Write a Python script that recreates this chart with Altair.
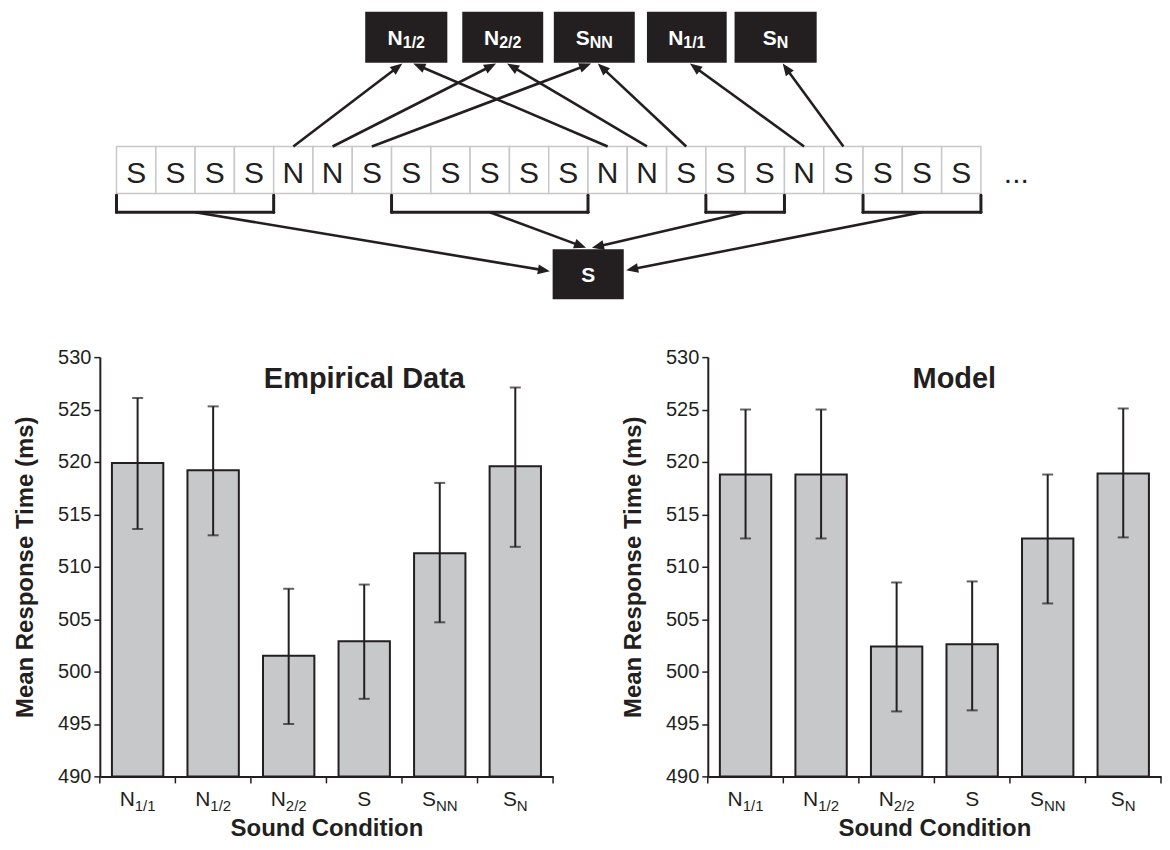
import math
import altair as alt
import pandas as pd

INK = "#231f20"
BAR_FILL = "#c7c8ca"
CELL_LINE = "#c8c8c8"
FONT = "Liberation Sans"

# ---------------- bar chart data ----------------
conditions = ["N1/1", "N1/2", "N2/2", "S", "SNN", "SN"]
cond_main = ["N", "N", "N", "S", "S", "S"]
cond_sub = ["1/1", "1/2", "2/2", "", "NN", "N"]

empirical_mean = [519.9, 519.2, 501.5, 502.9, 511.3, 519.6]
empirical_low = [513.6, 513.0, 495.0, 497.4, 504.7, 511.9]
empirical_high = [526.1, 525.3, 507.9, 508.3, 518.0, 527.1]

model_mean = [518.8, 518.8, 502.4, 502.6, 512.7, 518.9]
model_low = [512.7, 512.7, 496.2, 496.3, 506.5, 512.8]
model_high = [525.0, 525.0, 508.5, 508.6, 518.8, 525.1]

y_ticks = [490, 495, 500, 505, 510, 515, 520, 525, 530]

# ---------------- diagram data ----------------
sequence = list("SSSSNNSSSSSSNNSSSNSSSS")
box_main = ["N", "N", "S", "N", "S"]
box_sub = ["1/2", "2/2", "NN", "1/1", "N"]
box_left = [6.33, 8.80, 11.13, 13.50, 15.73]      # in cell widths
box_right = [8.42, 10.86, 13.19, 15.53, 17.82]
arrow_from_cell = [4, 5, 6, 12, 13, 14, 17, 18]
arrow_to_box = [0, 1, 2, 0, 1, 2, 3, 4]
arrow_tip_shift = [-0.10, -0.17, -0.08, 0.18, 0.11, 0.09, 0.08, 0.18]
bracket_first = [0, 7, 15, 19]
bracket_last = [3, 11, 16, 21]
bottom_tips = [(11.03, -1.66), (11.95, -1.16), (12.10, -1.16), (12.97, -1.64)]

GLYPH = {"N": 0.722, "S": 0.667, "1": 0.556, "2": 0.556, "/": 0.278}


def text_width(s, size):
    return sum(GLYPH[c] for c in s) * size


# ================= diagram =================
CELL_PX = 39.36
ROW_PX = 47.0
DW, DH = 1061, 296
X_MIN = -0.424
X_MAX = X_MIN + DW / CELL_PX
Y_MAX = 3.936
Y_MIN = Y_MAX - DH / ROW_PX

TOP_Y0, TOP_Y1 = 2.787, 3.872
BR_Y0, BR_Y1 = -0.40, -0.04
SB_X0, SB_X1, SB_Y0, SB_Y1 = 11.10, 12.91, -2.255, -1.19
LETTER_Y = 0.22

xs = alt.Scale(domain=[X_MIN, X_MAX], nice=False, zero=False)
ys = alt.Scale(domain=[Y_MIN, Y_MAX], nice=False, zero=False)


def X(f):
    return alt.X(f, type="quantitative", scale=xs, axis=None)


def Y(f):
    return alt.Y(f, type="quantitative", scale=ys, axis=None)


def arrow(x0, y0, x1, y1, back=7.0):
    dxp = (x1 - x0) * CELL_PX
    dyp = -(y1 - y0) * ROW_PX
    L = math.hypot(dxp, dyp)
    ang = math.degrees(math.atan2(dxp, -dyp)) % 360
    xe = x1 - back * dxp / L / CELL_PX
    ye = y1 + back * dyp / L / ROW_PX
    return dict(x=x0, y=y0, x2=xe, y2=ye), dict(x=x1, y=y1, angle=ang)


cells = pd.DataFrame({
    "x0": list(range(len(sequence))),
    "x1": [i + 1 for i in range(len(sequence))],
    "xc": [i + 0.5 for i in range(len(sequence))],
    "y0": [0.0] * len(sequence),
    "y1": [1.0] * len(sequence),
    "yt": [LETTER_Y] * len(sequence),
    "letter": sequence,
})

boxes = pd.DataFrame({
    "x0": box_left + [SB_X0],
    "x1": box_right + [SB_X1],
    "y0": [TOP_Y0] * len(box_left) + [SB_Y0],
    "y1": [TOP_Y1] * len(box_left) + [SB_Y1],
})

lab_rows_main, lab_rows_sub = [], []
for m, s, l, r in zip(box_main + ["S"], box_sub + [""], box_left + [SB_X0], box_right + [SB_X1]):
    cx = (l + r) / 2
    y0, y1 = (TOP_Y0, TOP_Y1) if l != SB_X0 else (SB_Y0, SB_Y1)
    mid = (y0 + y1) / 2
    wm = text_width(m, 21)
    ws = text_width(s, 16) if s else 0
    tot = wm + ws
    mx = cx - tot / 2 / CELL_PX
    my = mid - (0.716 * 21 / 2) / ROW_PX
    lab_rows_main.append(dict(x=mx, y=my, t=m))
    if s:
        lab_rows_sub.append(dict(x=mx + wm / CELL_PX, y=my - 3.5 / ROW_PX, t=s))
lab_main = pd.DataFrame(lab_rows_main)
lab_sub = pd.DataFrame(lab_rows_sub)

lines, heads = [], []
for c, b, sh in zip(arrow_from_cell, arrow_to_box, arrow_tip_shift):
    tx = (box_left[b] + box_right[b]) / 2 + sh
    ln, hd = arrow(c + 0.5, 1.0, tx, TOP_Y0 - 0.02)
    lines.append(ln)
    heads.append(hd)
for f, l, (tx, ty) in zip(bracket_first, bracket_last, bottom_tips):
    ln, hd = arrow((f + l + 1) / 2, BR_Y0, tx, ty)
    lines.append(ln)
    heads.append(hd)
arrow_lines = pd.DataFrame(lines)
arrow_heads = pd.DataFrame(heads)

br = []
for f, l in zip(bracket_first, bracket_last):
    x0, x1 = f, l + 1
    br.append(dict(x=x0, y=BR_Y1, x2=x0, y2=BR_Y0))
    br.append(dict(x=x0, y=BR_Y0, x2=x1, y2=BR_Y0))
    br.append(dict(x=x1, y=BR_Y0, x2=x1, y2=BR_Y1))
brackets = pd.DataFrame(br)

dots = pd.DataFrame({"x": [22.9], "y": [LETTER_Y], "t": ["..."]})

HEAD = "M0,0L0.9,2.2L-0.9,2.2Z"

diagram = alt.layer(
    alt.Chart(cells).mark_rect(fill="white", stroke=CELL_LINE, strokeWidth=1.5).encode(
        x=X("x0"), x2="x1", y=Y("y0"), y2="y1"),
    alt.Chart(cells).mark_text(font=FONT, fontSize=30, color=INK, baseline="alphabetic").encode(
        x=X("xc"), y=Y("yt"), text="letter:N"),
    alt.Chart(dots).mark_text(font=FONT, fontSize=30, color=INK, baseline="alphabetic").encode(
        x=X("x"), y=Y("y"), text="t:N"),
    alt.Chart(boxes).mark_rect(fill=INK).encode(x=X("x0"), x2="x1", y=Y("y0"), y2="y1"),
    alt.Chart(lab_main).mark_text(font=FONT, fontSize=21, fontWeight="bold", color="white",
                                  align="left", baseline="alphabetic").encode(
        x=X("x"), y=Y("y"), text="t:N"),
    alt.Chart(lab_sub).mark_text(font=FONT, fontSize=16, fontWeight="bold", color="white",
                                 align="left", baseline="alphabetic").encode(
        x=X("x"), y=Y("y"), text="t:N"),
    alt.Chart(brackets).mark_rule(color=INK, strokeWidth=3, strokeCap="round").encode(
        x=X("x"), x2="x2", y=Y("y"), y2="y2"),
    alt.Chart(arrow_lines).mark_rule(color=INK, strokeWidth=2.6).encode(
        x=X("x"), x2="x2", y=Y("y"), y2="y2"),
    alt.Chart(arrow_heads).mark_point(shape=HEAD, filled=True, fill=INK, strokeWidth=0,
                                      size=121, opacity=1).encode(
        x=X("x"), y=Y("y"), angle=alt.Angle("angle:Q", scale=None)),
).properties(width=DW, height=DH)

# ================= bar panels =================
W, H = 454, 420
PAD_IN, PAD_OUT = 0.32, 0.16
STEP = W / (len(conditions) - PAD_IN + 2 * PAD_OUT)
BANDW = STEP * (1 - PAD_IN)
MAIN_SIZE, SUB_SIZE = 21, 15


def panel(means, lows, highs, title, title_dx):
    rows = []
    for c, m, lo, hi, a, b in zip(conditions, means, lows, highs, cond_main, cond_sub):
        wm = text_width(a, MAIN_SIZE)
        ws = text_width(b, SUB_SIZE) if b else 0
        tot = wm + ws
        rows.append(dict(cond=c, mean=m, low=lo, high=hi, main=a, sub=b,
                         off_main=BANDW / 2 - tot / 2 + wm / 2,
                         off_sub=BANDW / 2 - tot / 2 + wm))
    df = pd.DataFrame(rows)
    edges = pd.DataFrame({
        "cond": conditions + [conditions[-1]],
        "off": [-STEP * PAD_OUT] * len(conditions) + [STEP * (1 - PAD_OUT)],
    })

    x_scale = alt.Scale(domain=conditions, paddingInner=PAD_IN, paddingOuter=PAD_OUT)
    x_axis = alt.Axis(labels=False, ticks=False, domainColor=INK, domainWidth=2,
                      title="Sound Condition", titleFont=FONT, titleFontSize=24,
                      titleFontWeight="bold", titleColor=INK, titlePadding=40)
    x_enc = alt.X("cond:N", sort=conditions, scale=x_scale, axis=x_axis)
    x_start = alt.X("cond:N", sort=conditions, scale=x_scale, axis=x_axis, bandPosition=0)
    y_scale = alt.Scale(domain=[490, 530], nice=False, zero=False)
    y_axis = alt.Axis(values=y_ticks, title="Mean Response Time (ms)", titleFont=FONT,
                      titleFontSize=24, titleFontWeight="bold", titleColor=INK,
                      titlePadding=20, labelFont=FONT, labelFontSize=20, labelColor=INK,
                      labelPadding=3, tickSize=6, tickWidth=1.5, tickColor=INK,
                      domainColor=INK, domainWidth=2, grid=False)

    base = alt.Chart(df)
    bars = base.mark_bar(fill=BAR_FILL, stroke=INK, strokeWidth=2).encode(
        x=x_enc, y=alt.Y("mean:Q", scale=y_scale, axis=y_axis), y2=alt.datum(490))
    err = base.mark_rule(color=INK, strokeWidth=2).encode(
        x=x_enc, y=alt.Y("low:Q", scale=y_scale, axis=y_axis), y2="high:Q")
    cap_lo = base.mark_tick(color=INK, thickness=2, size=11).encode(
        x=x_enc, y=alt.Y("low:Q", scale=y_scale, axis=y_axis))
    cap_hi = base.mark_tick(color=INK, thickness=2, size=11).encode(
        x=x_enc, y=alt.Y("high:Q", scale=y_scale, axis=y_axis))
    lab_m = base.mark_text(font=FONT, fontSize=MAIN_SIZE, color=INK, align="center",
                           baseline="alphabetic").encode(
        x=x_start, xOffset=alt.XOffset("off_main:Q", scale=None),
        y=alt.value(H + 30), text="main:N")
    lab_s = base.mark_text(font=FONT, fontSize=SUB_SIZE, color=INK, align="left",
                           baseline="alphabetic").encode(
        x=x_start, xOffset=alt.XOffset("off_sub:Q", scale=None),
        y=alt.value(H + 35), text="sub:N")
    ticks = alt.Chart(edges).mark_rule(color=INK, strokeWidth=1.5).encode(
        x=x_start, xOffset=alt.XOffset("off:Q", scale=None),
        y=alt.value(H), y2=alt.value(H + 7))

    return alt.layer(bars, err, cap_lo, cap_hi, lab_m, lab_s, ticks).properties(
        width=W, height=H,
        title=alt.TitleParams(title, font=FONT, fontSize=29, fontWeight="bold", color=INK,
                              anchor="middle", dx=title_dx, dy=70, offset=0,
                              baseline="alphabetic"),
    )


left = panel(empirical_mean, empirical_low, empirical_high, "Empirical Data", 38)
right = panel(model_mean, model_low, model_high, "Model", 20)

chart = alt.vconcat(
    diagram,
    alt.hconcat(left, right, spacing=67),
    spacing=53,
    bounds="flush",
).properties(
    padding={"left": 5, "top": 0, "right": 0, "bottom": 0}
).configure(font=FONT).configure_view(stroke=None)

chart.save("out.html", embed_options={"renderer": "svg", "actions": False})
